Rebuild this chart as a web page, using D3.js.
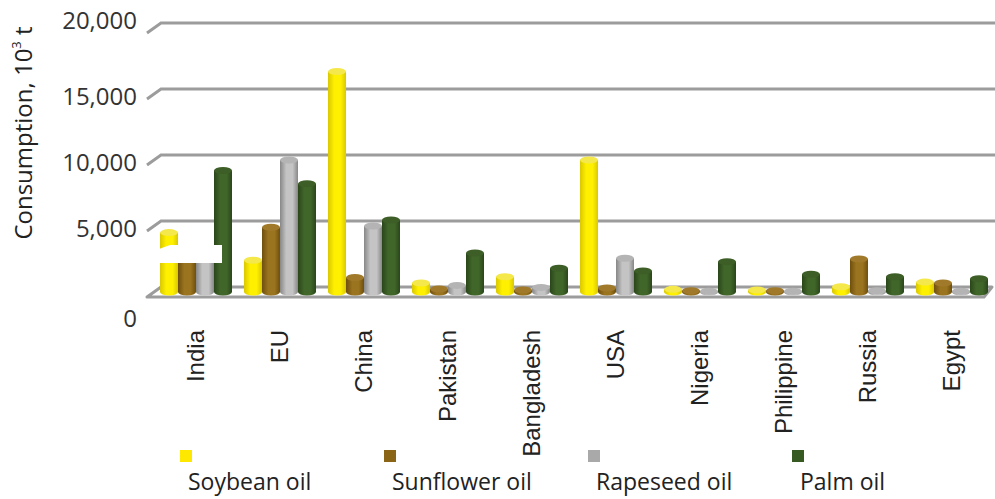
<!DOCTYPE html>
<html>
<head>
<meta charset="utf-8">
<script src="https://cdn.jsdelivr.net/npm/d3@7"></script>
<style>
  body { margin: 0; background: #fff; }
  svg { display: block; }
</style>
</head>
<body>
<div id="chart"></div>
<script>
const countries = ["India", "EU", "China", "Pakistan", "Bangladesh", "USA", "Nigeria", "Philippine", "Russia", "Egypt"];
const oils = ["Soybean oil", "Sunflower oil", "Rapeseed oil", "Palm oil"];

// consumption, thousand tonnes
const soybean   = [4500, 2400, 16700, 680, 1150, 10000, 200, 150, 400, 750];
const sunflower = [2700, 4900, 1100, 230, 150, 300, 100, 100, 2500, 680];
const rapeseed  = [2500, 10000, 5000, 500, 350, 2550, 50, 50, 100, 50];
const palm      = [9200, 8200, 5450, 2950, 1800, 1600, 2300, 1350, 1150, 1000];

const yTicks = [0, 5000, 10000, 15000, 20000];

const series = [soybean, sunflower, rapeseed, palm];
const palette = {
  "Soybean oil":   { edge: "#d9c800", mid: "#fff000", top: "#f4e84a", key: "#ffe800" },
  "Sunflower oil": { edge: "#6e4f0c", mid: "#9b7420", top: "#a07a2a", key: "#8a6516" },
  "Rapeseed oil":  { edge: "#878787", mid: "#c4c4c4", top: "#b4b4b4", key: "#a9a9a9" },
  "Palm oil":      { edge: "#2a461a", mid: "#41662a", top: "#3d5f27", key: "#375a23" }
};

const width = 995, height = 499;
const svg = d3.select("#chart").append("svg")
  .attr("width", width)
  .attr("height", height);

// depth of the floor: back wall at 0, front edge dx/dy away
const depthX = 14, depthY = 10;
const plotLeft = 161, plotRight = 995;

const yBack = d3.scaleLinear().domain([0, 20000]).range([287, 23]);
const barBase = 292;
const barH = v => (yBack(0) - yBack(v));

const x = d3.scaleBand().domain(countries).range([154, 994])
  .paddingInner(1 / 7).paddingOuter(1 / 14);
const xs = d3.scaleBand().domain(oils).range([0, x.bandwidth()]);

// cylinder shading
const defs = svg.append("defs");
oils.forEach((o, i) => {
  const c = palette[o];
  const g = defs.append("linearGradient").attr("id", "cyl" + i)
    .attr("x1", "0%").attr("x2", "100%");
  g.append("stop").attr("offset", "0%").attr("stop-color", c.edge);
  g.append("stop").attr("offset", "35%").attr("stop-color", c.mid);
  g.append("stop").attr("offset", "70%").attr("stop-color", c.mid);
  g.append("stop").attr("offset", "100%").attr("stop-color", c.edge);
});

// gridlines on the back wall with a short slant to the front
const grid = svg.append("g");
yTicks.filter(t => t > 0).forEach(t => {
  const yy = yBack(t);
  grid.append("path")
    .attr("d", `M${plotLeft - depthX},${yy + depthY}L${plotLeft},${yy}L${plotRight},${yy}`)
    .attr("fill", "none")
    .attr("stroke", "#9c9c9c")
    .attr("stroke-width", 3);
});

// floor
const y0 = yBack(0);
grid.append("path")
  .attr("d", `M${plotLeft - depthX},${y0 + depthY}L${plotLeft},${y0}L${plotRight - 3},${y0}L${plotRight - 11},${y0 + depthY}Z`)
  .attr("fill", "#fff")
  .attr("stroke", "#9c9c9c")
  .attr("stroke-width", 3)
  .attr("stroke-linejoin", "round");

// y tick labels at the front edge; the zero label sits below the floor
svg.append("g").selectAll("text")
  .data(yTicks)
  .join("text")
  .attr("x", 137)
  .attr("y", d => yBack(d) + depthY + (d === 0 ? 22 : d === 20000 ? -12 : -2))
  .attr("dy", "0.35em")
  .attr("text-anchor", "end")
  .attr("font-family", "'Open Sans', sans-serif")
  .attr("font-size", 24)
  .attr("fill", "#333")
  .text(d => d3.format(",")(d));

// bars as cylinders
const ry = 3.5;
const bars = svg.append("g");
countries.forEach((c, ci) => {
  oils.forEach((o, oi) => {
    const v = series[oi][ci];
    const bx = x(c) + xs(o);
    const bw = xs.bandwidth();
    const top = barBase - barH(v);
    const g = bars.append("g");
    g.append("ellipse")
      .attr("cx", bx + bw / 2).attr("cy", barBase)
      .attr("rx", bw / 2).attr("ry", ry)
      .attr("fill", `url(#cyl${oi})`);
    g.append("rect")
      .attr("x", bx).attr("y", top)
      .attr("width", bw).attr("height", Math.max(0, barBase - top))
      .attr("fill", `url(#cyl${oi})`);
    g.append("ellipse")
      .attr("cx", bx + bw / 2).attr("cy", top)
      .attr("rx", bw / 2).attr("ry", ry)
      .attr("fill", palette[o].top);
  });
});

// blank callout box sitting over the India group
svg.append("path")
  .attr("d", "M159,249L170,245L222,245L222,263L159,263Z")
  .attr("fill", "#fff");

// category labels
svg.append("g").selectAll("text")
  .data(countries)
  .join("text")
  .attr("transform", d => `translate(${x(d) + x.bandwidth() / 2 + 8},330) rotate(-90)`)
  .attr("text-anchor", "end")
  .attr("font-family", "'Liberation Sans', Arial, sans-serif")
  .attr("font-size", 24)
  .attr("fill", "#222")
  .text(d => d);

// y axis title
const title = svg.append("text")
  .attr("transform", "translate(32,133) rotate(-90)")
  .attr("text-anchor", "middle")
  .attr("font-family", "'Open Sans', sans-serif")
  .attr("font-size", 24)
  .attr("fill", "#222");
title.append("tspan").text("Consumption, 10");
title.append("tspan").attr("font-size", 13).attr("dy", -11).text("3");
title.append("tspan").attr("dy", 11).text(" t");

// legend
const lx = d3.scalePoint().domain(oils).range([180, 792]);
const legend = svg.append("g");
oils.forEach(o => {
  legend.append("rect")
    .attr("x", lx(o)).attr("y", 450)
    .attr("width", 12).attr("height", 12)
    .attr("fill", palette[o].key);
  legend.append("text")
    .attr("x", lx(o) + 8).attr("y", 490)
    .attr("font-family", "'Open Sans', sans-serif")
    .attr("font-size", 23)
    .attr("fill", "#222")
    .text(o);
});
</script>
</body>
</html>
